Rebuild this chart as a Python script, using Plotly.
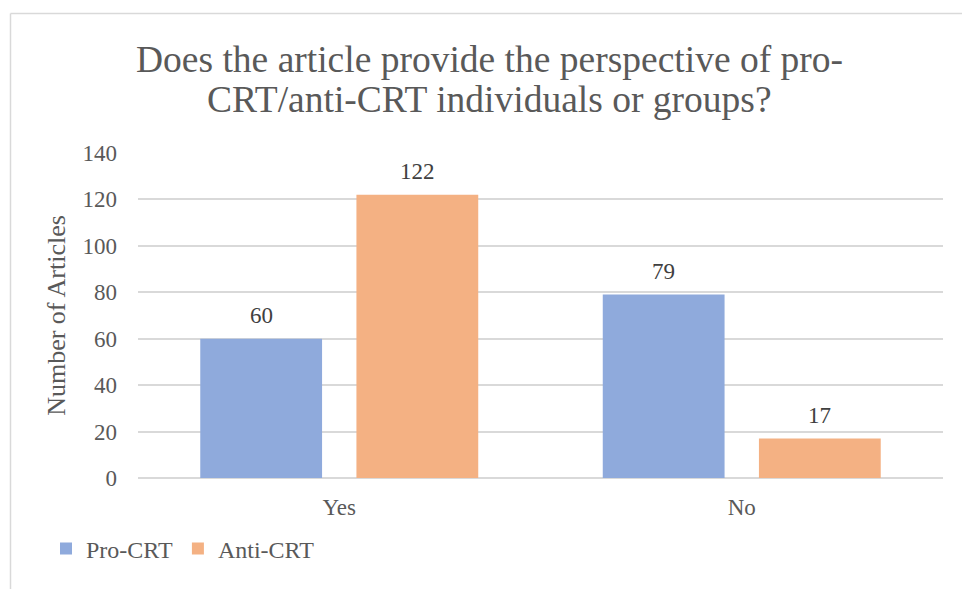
import plotly.graph_objects as go

# Survey answers and article counts
categories = ["Yes", "No"]
pro_crt = [60, 79]
anti_crt = [122, 17]
series_names = ["Pro-CRT", "Anti-CRT"]
series_colors = ["#8FAADC", "#F4B183"]
y_ticks = [0, 20, 40, 60, 80, 100, 120, 140]
title_lines = [
    "Does the article provide the perspective of pro-",
    "CRT/anti-CRT individuals or groups?",
]

W, H = 962, 589
L, R, T, B = 138, 19, 153, 111
plot_w = W - L - R
plot_h = H - T - B

SERIF = "Liberation Serif"
TEXT = "#595959"
LABEL = "#404040"
GRID = "#D9D9D9"

BARGAP = 0.224
GROUPGAP = 0.22


def px_x(px):
    return (px - L) / plot_w


def px_y(py):
    return (H - B - py) / plot_h


fig = go.Figure()
for name, values, color in zip(series_names, [pro_crt, anti_crt], series_colors):
    fig.add_trace(go.Bar(
        name=name, x=categories, y=values,
        marker=dict(color=color, line=dict(width=0)),
    ))

# value labels above each bar, shifted to the centre of its slot in the group
slot_px = plot_w / len(categories) * (1 - BARGAP) / len(series_names)
for i, values in enumerate([pro_crt, anti_crt]):
    shift = (i - (len(series_names) - 1) / 2) * slot_px
    for cat, v in zip(categories, values):
        fig.add_annotation(
            x=cat, y=v, text=str(v), showarrow=False,
            xshift=shift, yshift=23, yanchor="middle",
            font=dict(family=SERIF, size=23, color=LABEL),
        )

# chart title, one annotation per line for tight line spacing
for line, centre_y in zip(title_lines, [59, 99]):
    fig.add_annotation(
        xref="paper", yref="paper", x=px_x(489), y=px_y(centre_y),
        xanchor="center", yanchor="middle", showarrow=False,
        text=line, font=dict(family=SERIF, size=37.5, color=TEXT),
    )

# light frame around the chart (left and top edges)
frame = dict(color=GRID, width=1.5)
fig.add_shape(type="line", xref="paper", yref="paper",
              x0=px_x(10.5), x1=px_x(10.5), y0=px_y(589), y1=px_y(13.5), line=frame)
fig.add_shape(type="line", xref="paper", yref="paper",
              x0=px_x(10.5), x1=px_x(962), y0=px_y(13.5), y1=px_y(13.5), line=frame)

fig.update_layout(
    width=W, height=H,
    margin=dict(l=L, r=R, t=T, b=B, autoexpand=False),
    paper_bgcolor="white", plot_bgcolor="white",
    barmode="group", bargap=BARGAP, bargroupgap=GROUPGAP,
    font=dict(family=SERIF, color=TEXT, size=23),
    xaxis=dict(
        showgrid=False, showline=False, ticks="", automargin=False,
        tickfont=dict(family=SERIF, size=23, color=TEXT),
        ticklabelstandoff=13,
    ),
    yaxis=dict(
        range=[0, 140], tickvals=y_ticks, automargin=False,
        showgrid=True, gridcolor=GRID, gridwidth=1.5,
        zeroline=True, zerolinecolor=GRID, zerolinewidth=1.5,
        showline=False, ticks="",
        tickfont=dict(family=SERIF, size=23, color=TEXT),
        ticklabelstandoff=20,
        title=dict(text="Number of Articles", standoff=9,
                   font=dict(family=SERIF, size=26, color=TEXT)),
    ),
    legend=dict(
        orientation="h", xref="container", yref="container",
        x=46 / W, xanchor="left", y=1 - 549 / H, yanchor="middle",
        font=dict(family=SERIF, size=24, color=TEXT),
        itemwidth=30, traceorder="normal",
    ),
    showlegend=True,
)

fig.write_html("out.html")
